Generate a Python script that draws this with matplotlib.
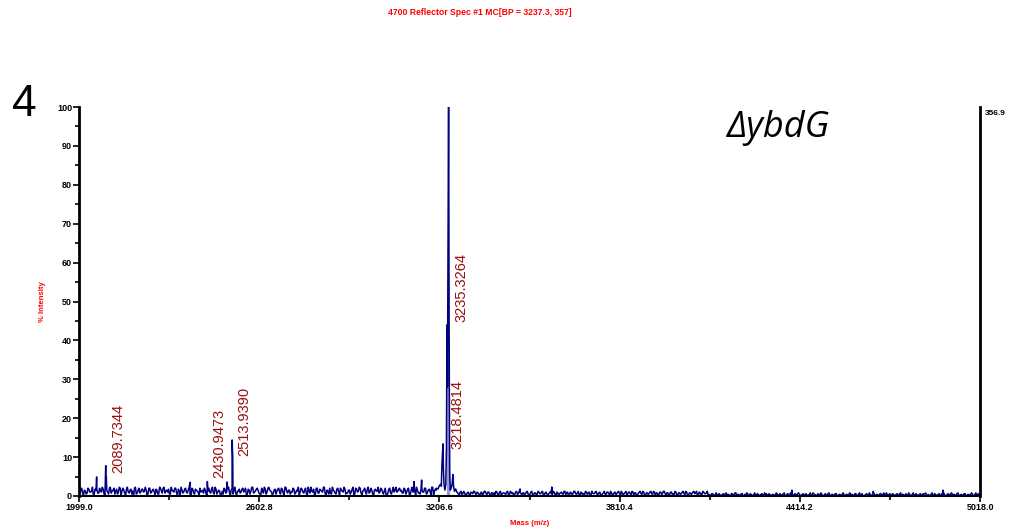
import matplotlib.pyplot as plt
import numpy as np
from matplotlib.ticker import MultipleLocator, AutoMinorLocator

# --- spectrum data ---
# baseline noise, one digit per sample: digit * unit = % intensity
noise1_start, noise1_step, noise1_unit = 1999.0, 6.0, 0.25
noise1 = ("4736284517" "6359274836" "2748561937" "5826374918" "3647295836"
          "7264815937" "4628375146" "8254739261" "5837462915" "3748265947"
          "6283749516" "2748395624" "7351846293" "5728364915" "8263748592"
          "3649275816" "4738265947" "2817364958" "6374829516" "3748265917")
noise1b_start = 2002.0
noise1b = ("2815374926" "3847162958" "5291837462" "1938475628" "4716283954"
           "2958371648" "3917264853" "6183927451" "2749186357" "4861729358"
           "3159286437" "5827193648" "2694738159" "4183759262" "3952816473"
           "6271849358" "2946175384" "5138296475" "3827164593" "2648371956")
noise2_start, noise2_step, noise2_unit = 3270.0, 6.0, 0.2
noise2 = ("3526142536" "2415362514" "4625143526" "3152634152" "2614253625"
          "1436251436" "2514362614" "3625143625" "1425361425" "3614253614"
          "2536142536" "1425361425" "3614253614" "2536142536")
noise2b_start = 3273.0
noise2b = ("1634251463" "5241635241" "2516342615" "4263514362" "5142635142"
           "3625143526" "4152634152" "2541635241" "3625142536" "1436252541"
           "3625143625" "4152634152" "2514362514" "3641526341")
noise3_start, noise3_step, noise3_unit = 4110.0, 6.0, 0.2
noise3 = ("2131402132" "1203142130" "2413021302" "1430212031" "2140312031"
          "4021302142" "0312031402" "1302140213" "2031420130" "2140213024"
          "1302130421" "3021402130" "2410213021" "3402130214" "0213021304" "21")
noise3b_start = 4113.0
noise3b = ("1302130214" "2031402130" "1302140213" "0213021403" "1302140213"
           "2130214031" "2140213021" "3021302140" "1302130214" "0312031402"
           "2130213021" "1402130213" "3021402130" "1203142130" "2130214021" "30")

# peaks and the main cluster (m/z, % intensity)
peak_mz = [2058.0, 2088.5, 2090.5, 2371.0, 2429.0, 2495.0, 2512.0, 2514.0,
           3121.6, 3147.0, 3477.0, 3583.0, 4388.0, 4660.0, 4894.0]
peak_int = [4.9, 7.8, 5.0, 3.5, 3.7, 3.6, 14.4, 10.3,
            3.7, 4.1, 1.8, 2.3, 1.5, 1.2, 1.5]
cluster_mz = [3196, 3202, 3206, 3210, 3213, 3215, 3217, 3218.5, 3220, 3222, 3225,
              3228, 3230, 3232, 3233.5, 3235.3, 3237.3, 3239, 3241, 3243, 3246,
              3249, 3252, 3254, 3257, 3261, 3265]
cluster_int = [2.0, 1.8, 2.6, 3.0, 2.5, 8.0, 11.0, 13.4, 7.0, 3.0, 1.5,
               3.0, 12.0, 44.0, 28.0, 60.0, 100.0, 45.0, 6.0, 1.5, 2.0,
               3.0, 5.5, 2.5, 1.2, 1.8, 1.0]

labels = ["2089.7344", "2430.9473", "2513.9390", "3235.3264", "3218.4814"]
label_mz = [2106, 2445, 2528, 3256, 3242]
label_y = [5.9, 4.6, 10.3, 44.7, 12.1]

xticks = [1999.0, 2602.8, 3206.6, 3810.4, 4414.2, 5018.0]


def decode(start, step, unit, code):
    v = np.array([int(c) for c in code]) * unit
    return start + step * np.arange(len(v)), v


parts = [decode(noise1_start, noise1_step, noise1_unit, noise1),
         decode(noise1b_start, noise1_step, noise1_unit, noise1b),
         decode(noise2_start, noise2_step, noise2_unit, noise2),
         decode(noise2b_start, noise2_step, noise2_unit, noise2b),
         decode(noise3_start, noise3_step, noise3_unit, noise3),
         decode(noise3b_start, noise3_step, noise3_unit, noise3b)]
mz = np.concatenate([p[0] for p in parts] + [peak_mz, cluster_mz])
inten = np.concatenate([p[1] for p in parts] + [peak_int, cluster_int])
keep = mz <= 5018.0
mz, inten = mz[keep], inten[keep]
order = np.argsort(mz)
mz, inten = mz[order], inten[order]

plt.rcParams['font.family'] = ['Liberation Sans', 'DejaVu Sans']

fig = plt.figure(figsize=(10.09, 5.29), dpi=100)
ax = fig.add_axes([0.0783, 0.0624, 0.893, 0.7353])

cm = np.array(cluster_mz, dtype=float)
ci = np.array(cluster_int)
sel = (cm >= 3230) & (cm <= 3241)
ax.fill_between(cm[sel], 0, ci[sel], color='#9a9ad2', lw=0, zorder=1)
ax.plot(mz, inten, color='#000080', lw=1.1, zorder=2)

for t, x, y in zip(labels, label_mz, label_y):
    ax.text(x, y, t, rotation=90, ha='left', va='bottom', color='#990f0f',
            fontsize=10.5, zorder=3)

ax.set_xlim(1999.0, 5018.0)
ax.set_ylim(0, 100)
ax.set_xticks(xticks)
ax.set_xticklabels([f"{v:.1f}" for v in xticks])
ax.xaxis.set_minor_locator(AutoMinorLocator(2))
ax.yaxis.set_major_locator(MultipleLocator(10))
ax.yaxis.set_minor_locator(MultipleLocator(5))
ax.tick_params(axis='both', which='major', length=4, width=1.2, labelsize=6.5, pad=1)
ax.tick_params(axis='both', which='minor', length=3, width=1.2)
for lab in ax.get_xticklabels() + ax.get_yticklabels():
    lab.set_fontweight('bold')

ax.spines['top'].set_visible(False)
ax.spines['left'].set_linewidth(2)
ax.spines['right'].set_linewidth(2)
ax.spines['bottom'].set_linewidth(1.5)

ax.set_ylabel("% Intensity", color='red', fontsize=5.5, fontweight='bold', labelpad=8)
ax.set_xlabel("Mass (m/z)", color='red', fontsize=5.5, fontweight='bold', labelpad=6)

fig.text(0.476, 0.977, "4700 Reflector Spec #1 MC[BP = 3237.3, 357]", color='red',
         fontsize=6.2, fontweight='bold', ha='center', va='center')
fig.text(0.976, 0.786, "356.9", fontsize=6, fontweight='bold', ha='left', va='center')
fig.text(0.012, 0.803, "4", fontsize=32, ha='left', va='center')
fig.text(0.72, 0.758, "ΔybdG", fontsize=26, style='italic', ha='left', va='center',
         family=['Open Sans', 'DejaVu Sans'])

fig.savefig('out.png', dpi=100)
